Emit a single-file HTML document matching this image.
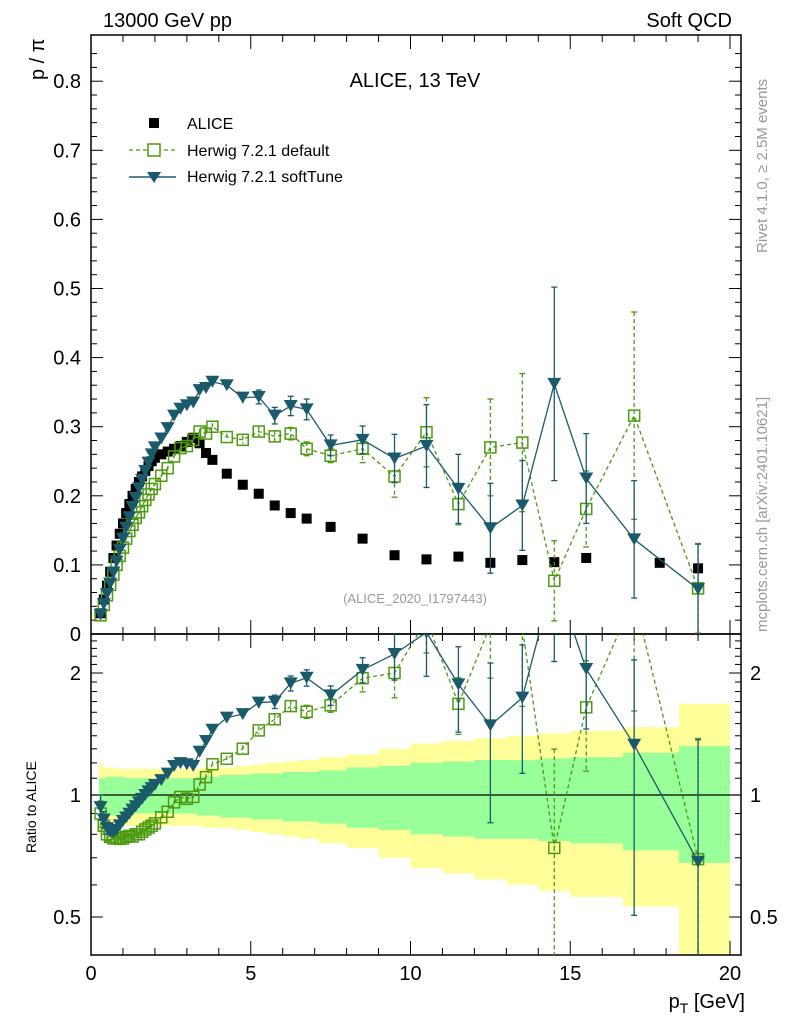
<!DOCTYPE html>
<html><head><meta charset="utf-8"><style>
html,body{margin:0;padding:0;background:#fff;width:786px;height:1024px;overflow:hidden;}
svg{display:block;font-family:"Liberation Sans",sans-serif;}
</style></head><body>
<svg id="c" width="786" height="1024" viewBox="0 0 786 1024" xmlns="http://www.w3.org/2000/svg">
<g id="bands"></g>
<g id="axes"></g>
<g id="marks"></g>
<text x="103" y="27" font-size="20">13000 GeV pp</text>
<text x="732" y="27" font-size="20" text-anchor="end">Soft QCD</text>
<text x="415" y="87" font-size="20" text-anchor="middle">ALICE, 13 TeV</text>
<text x="415" y="603" font-size="13" fill="#999" text-anchor="middle">(ALICE_2020_I1797443)</text>
<text transform="translate(44,80) rotate(-90)" font-size="20">p / π</text>
<text transform="translate(36,853) rotate(-90)" font-size="14">Ratio to ALICE</text>
<text x="745" y="1008" font-size="20" text-anchor="end">p<tspan font-size="14" dy="5">T</tspan><tspan dy="-5"> [GeV]</tspan></text>
<text transform="translate(767,253) rotate(-90)" font-size="15" fill="#999">Rivet 4.1.0, ≥ 2.5M events</text>
<text transform="translate(767,632) rotate(-90)" font-size="15" fill="#999">mcplots.cern.ch [arXiv:2401.10621]</text>
<g>
<rect x="149" y="118" width="10" height="10" fill="#000"/>
<text x="187" y="129" font-size="16">ALICE</text>
<line x1="129" y1="150" x2="176" y2="150" stroke="#4c9a10" stroke-dasharray="4,3" stroke-width="1.3"/>
<rect x="148" y="144" width="12" height="12" fill="#fff" stroke="#4c9a10" stroke-width="1.5"/>
<text x="187" y="156" font-size="16">Herwig 7.2.1 default</text>
<line x1="129" y1="177" x2="176" y2="177" stroke="#1b5a6a" stroke-width="1.5"/>
<path d="M147,172 L161,172 L154,183 Z" fill="#1b5a6a"/>
<text x="187" y="182" font-size="16">Herwig 7.2.1 softTune</text>
</g>
</svg>
<script>
const pT=[0.3,0.4,0.5,0.6,0.7,0.8,0.9,1.0,1.1,1.2,1.3,1.4,1.5,1.6,1.7,1.8,1.9,2.0,2.2,2.4,2.6,2.8,3.0,3.2,3.4,3.6,3.8,4.25,4.75,5.25,5.75,6.25,6.75,7.5,8.5,9.5,10.5,11.5,12.5,13.5,14.5,15.5,17,19];
const alicePt=[0.3,0.4,0.5,0.6,0.7,0.8,0.9,1.0,1.1,1.2,1.3,1.4,1.5,1.6,1.7,1.8,1.9,2.0,2.2,2.4,2.6,2.8,3.0,3.2,3.4,3.6,3.8,4.25,4.75,5.25,5.75,6.25,6.75,7.5,8.5,9.5,10.5,11.5,12.5,13.5,14.5,15.5,17.8,19];
const alice=[0.030,0.05,0.07,0.09,0.11,0.128,0.145,0.16,0.175,0.188,0.2,0.21,0.22,0.228,0.236,0.243,0.25,0.255,0.26,0.264,0.268,0.272,0.278,0.284,0.276,0.262,0.252,0.232,0.216,0.203,0.186,0.175,0.167,0.155,0.138,0.114,0.108,0.112,0.103,0.107,0.104,0.110,0.103,0.095];
const aliceStatRel=[0.10,0.10,0.11,0.11,0.11,0.11,0.11,0.11,0.10,0.10,0.10,0.10,0.10,0.10,0.10,0.10,0.10,0.10,0.10,0.10,0.10,0.10,0.10,0.10,0.11,0.11,0.11,0.12,0.12,0.13,0.13,0.14,0.14,0.15,0.17,0.18,0.20,0.21,0.22,0.22,0.23,0.24,0.27,0.32];
const aliceTotRel=[0.20,0.17,0.17,0.17,0.17,0.16,0.16,0.16,0.16,0.16,0.16,0.16,0.16,0.16,0.16,0.16,0.16,0.16,0.16,0.16,0.16,0.16,0.16,0.16,0.16,0.17,0.17,0.17,0.18,0.19,0.20,0.21,0.22,0.24,0.26,0.30,0.34,0.36,0.38,0.40,0.42,0.44,0.47,0.68];
const herDef=[0.027,0.042,0.056,0.071,0.086,0.100,0.113,0.125,0.138,0.149,0.158,0.168,0.176,0.185,0.194,0.202,0.21,0.217,0.229,0.240,0.257,0.269,0.272,0.281,0.293,0.290,0.300,0.285,0.281,0.293,0.286,0.290,0.268,0.258,0.268,0.228,0.292,0.188,0.270,0.277,0.077,0.181,0.316,0.066];
const herDefErr=[0.002,0.002,0.002,0.002,0.002,0.002,0.002,0.002,0.002,0.002,0.002,0.002,0.002,0.002,0.002,0.002,0.002,0.002,0.002,0.003,0.003,0.003,0.003,0.004,0.004,0.005,0.005,0.005,0.006,0.007,0.008,0.009,0.01,0.01,0.02,0.03,0.05,0.03,0.07,0.10,0.058,0.055,0.15,0.065];
const herSoft=[0.028,0.0435,0.058,0.073,0.089,0.105,0.122,0.138,0.154,0.169,0.184,0.197,0.211,0.223,0.236,0.248,0.26,0.270,0.283,0.298,0.316,0.326,0.331,0.335,0.353,0.356,0.365,0.360,0.342,0.343,0.316,0.330,0.325,0.273,0.281,0.254,0.272,0.210,0.153,0.186,0.362,0.225,0.137,0.065];
const herSoftErr=[0.002,0.002,0.002,0.002,0.002,0.002,0.002,0.002,0.002,0.002,0.002,0.002,0.002,0.002,0.002,0.002,0.002,0.002,0.003,0.003,0.003,0.004,0.004,0.005,0.005,0.006,0.006,0.007,0.008,0.01,0.012,0.014,0.015,0.015,0.02,0.035,0.06,0.05,0.065,0.065,0.14,0.065,0.085,0.065];
const yTicks=[0,0.1,0.2,0.3,0.4,0.5,0.6,0.7,0.8];
const xTicks=[0,5,10,15,20];
const rTicks=[0.5,1,2];

const NS='http://www.w3.org/2000/svg';
const L=91,R=741,MT=35,MB=634,RB=955;
const X=v=>L+v*31.95;
const Y=v=>634-v*691;
const RY=r=>795-122*Math.log2(r);
function mk(p,tag,at){const e=document.createElementNS(NS,tag);for(const k in at)e.setAttribute(k,at[k]);p.appendChild(e);return e;}
const axes=document.getElementById('axes'),marks=document.getElementById('marks'),bands=document.getElementById('bands');
const GREEN='#4c9a10',TEAL='#1b5a6a';

const edges=[0.25];
for(let i=0;i<alicePt.length-1;i++)edges.push((alicePt[i]+alicePt[i+1])/2);
edges.push(20);
function band(rel,color,name){
  let top='',bot='';
  for(let i=0;i<alicePt.length;i++){
    const up=RY(1+rel[i]),dn=Math.min(RB,RY(Math.max(1-rel[i],0.01)));
    top+=` L${X(edges[i])},${up} L${X(edges[i+1])},${up}`;
    bot=` L${X(edges[i+1])},${dn} L${X(edges[i])},${dn}`+bot;
  }
  const p=mk(bands,'path',{d:'M'+top.slice(2)+bot+' Z',fill:color});
  
  
}
band(aliceTotRel,'#ffff99','ratio-total-uncertainty-band');
band(aliceStatRel,'#99ff99','ratio-stat-uncertainty-band');

mk(axes,'rect',{x:L,y:MT,width:R-L,height:MB-MT,fill:'none',stroke:'#000','stroke-width':1.5});
mk(axes,'rect',{x:L,y:MB,width:R-L,height:RB-MB,fill:'none',stroke:'#000','stroke-width':1.5});
mk(axes,'line',{x1:L,y1:RY(1),x2:R,y2:RY(1),stroke:'#000','stroke-width':1.2});
for(let v=0;v<=0.86;v+=0.02){const y=Y(v);if(y<MT)break;const maj=Math.abs(v*10-Math.round(v*10))<1e-6;
  mk(axes,'line',{x1:L,y1:y,x2:L+(maj?12:6),y2:y,stroke:'#000'});mk(axes,'line',{x1:R,y1:y,x2:R-(maj?12:6),y2:y,stroke:'#000'});}
yTicks.forEach(v=>{const t=mk(axes,'text',{x:81,y:Y(v)+7,'font-size':20,'text-anchor':'end'});t.textContent=v===0?'0':v.toFixed(1);
  });
for(let v=0;v<=20;v++){const maj=v%5===0,x=X(v);
  [[MB,-1],[MT,1],[RB,-1]].forEach(([yy,s])=>mk(axes,'line',{x1:x,y1:yy,x2:x,y2:yy+s*(maj?14:7),stroke:'#000'}));
  mk(axes,'line',{x1:x,y1:MB,x2:x,y2:MB+(maj?14:7),stroke:'#000'});}
xTicks.forEach(v=>{const t=mk(axes,'text',{x:X(v),y:980,'font-size':20,'text-anchor':'middle'});t.textContent=v;
  });
for(let r=0.4;r<=2.5;r+=0.1){const y=RY(r);if(y<MB||y>RB)continue;const maj=rTicks.some(m=>Math.abs(m-r)<1e-6);
  mk(axes,'line',{x1:L,y1:y,x2:L+(maj?12:6),y2:y,stroke:'#000'});mk(axes,'line',{x1:R,y1:y,x2:R-(maj?12:6),y2:y,stroke:'#000'});}
rTicks.forEach(r=>{[[81,'end'],[750,'start']].forEach(([x,a])=>{const t=mk(axes,'text',{x:x,y:RY(r)+7,'font-size':20,'text-anchor':a});t.textContent=r;
  });});

const defs=mk(document.getElementById('c'),'defs',{});
const c1=mk(defs,'clipPath',{id:'cm'});mk(c1,'rect',{x:L,y:MT,width:R-L,height:MB-MT});
const c2=mk(defs,'clipPath',{id:'cr'});mk(c2,'rect',{x:L,y:MB,width:R-L,height:RB-MB});
const gm=mk(marks,'g',{'clip-path':'url(#cm)'}),gr=mk(marks,'g',{'clip-path':'url(#cr)'});

function series(g,xs,vals,errs,yf,color,dash,marker,name){
  const grp=mk(g,'g',{});
  if(color!=='#000'){let d='';xs.forEach((x,i)=>{d+=(i?' L':'M')+X(x)+','+yf(vals[i]);});
    const a={d:d,fill:'none',stroke:color,'stroke-width':1.3};if(dash)a['stroke-dasharray']=dash;mk(grp,'path',a);}
  xs.forEach((x,i)=>{const cx=X(x),cy=yf(vals[i]);
    if(errs){const y1=yf(vals[i]+errs[i][1]),y2=yf(Math.max(vals[i]-errs[i][0],0.001));
      const a={x1:cx,y1:y1,x2:cx,y2:y2,stroke:color,'stroke-width':1.3};if(dash)a['stroke-dasharray']=dash;mk(grp,'line',a);
      if(Math.abs(y2-y1)>12){mk(grp,'line',{x1:cx-3,y1:y1,x2:cx+3,y2:y1,stroke:color,'stroke-width':1.3});mk(grp,'line',{x1:cx-3,y1:y2,x2:cx+3,y2:y2,stroke:color,'stroke-width':1.3});}}
    let m;
    if(marker==='sq')m=mk(grp,'rect',{x:cx-5,y:cy-5,width:10,height:10,fill:'#000'});
    else if(marker==='osq')m=mk(grp,'rect',{x:cx-5.5,y:cy-5.5,width:11,height:11,fill:'none',stroke:color,'stroke-width':1.5});
    else m=mk(grp,'path',{d:`M${cx-7},${cy-6} L${cx+7},${cy-6} L${cx},${cy+6} Z`,fill:color});
    
  });
}
series(gm,alicePt,alice,null,Y,'#000',null,'sq','alice-data');
series(gm,pT,herDef,herDefErr.map(e=>[e,e]),Y,GREEN,'4,3','osq','herwig-default');
series(gm,pT,herSoft,herSoftErr.map(e=>[e,e]),Y,TEAL,null,'tri','herwig-softtune');
const rDef=herDef.map((v,i)=>v/alice[i]),rSoft=herSoft.map((v,i)=>v/alice[i]);
series(gr,pT,rDef,herDefErr.map((e,i)=>[e/alice[i],e/alice[i]]),RY,GREEN,'4,3','osq','ratio-herwig-default');
series(gr,pT,rSoft,herSoftErr.map((e,i)=>[e/alice[i],e/alice[i]]),RY,TEAL,null,'tri','ratio-herwig-softtune');
</script>
</body></html>
